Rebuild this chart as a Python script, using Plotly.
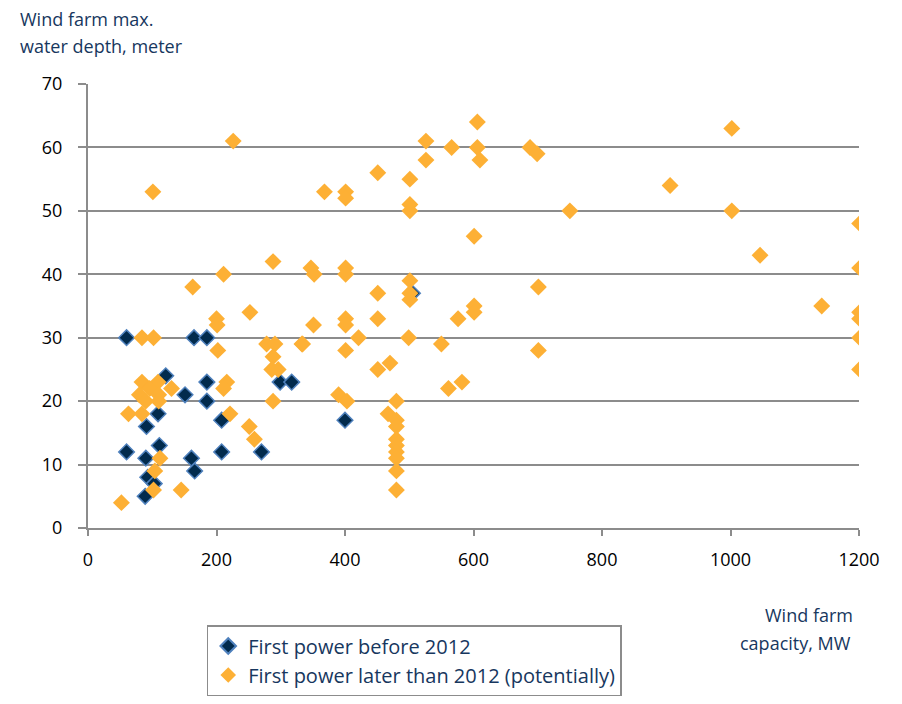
import plotly.graph_objects as go

# First power before 2012: capacity (MW), max water depth (m)
before_cap = [60, 165, 185, 121, 151, 185, 185, 109, 91, 208, 299, 317,
              60, 90, 111, 161, 166, 208, 270, 93, 103, 89, 400, 505]
before_depth = [30, 30, 30, 24, 21, 23, 20, 18, 16, 17, 23, 23,
                12, 11, 13, 11, 9, 12, 12, 8, 7, 5, 17, 37]

# First power later than 2012 (potentially)
later_cap = [84, 102, 101, 226,
             84, 109, 96, 130, 80, 110, 90, 110, 63, 84,
             112, 104, 102, 145, 52,
             288, 211, 163, 347, 352, 200, 201, 252, 351, 278, 291, 333, 202,
             288, 286, 296, 216, 211, 288, 221, 251, 259,
             606, 526, 566, 606, 610, 526, 688, 699, 451, 501, 368, 401, 401,
             501, 501, 601, 401, 401, 501, 501, 501, 451, 701, 401, 401, 451,
             421, 499, 550, 334, 401, 701, 576, 601, 601, 451, 470, 561, 582,
             390, 403, 480, 467, 480, 480, 480, 480, 480, 480, 480, 480,
             1002, 906, 750, 1002, 1201, 1046, 1201, 1142, 1201, 1201, 1201, 1201]
later_depth = [30, 30, 53, 61,
               23, 23, 22, 22, 21, 21, 20, 20, 18, 18,
               11, 9, 6, 6, 4,
               42, 40, 38, 41, 40, 33, 32, 34, 32, 29, 29, 29, 28,
               27, 25, 25, 23, 22, 20, 18, 16, 14,
               64, 61, 60, 60, 58, 58, 60, 59, 56, 55, 53, 53, 52,
               51, 50, 46, 41, 40, 39, 37, 36, 37, 38, 33, 32, 33,
               30, 30, 29, 29, 28, 28, 33, 35, 34, 25, 26, 22, 23,
               21, 20, 20, 18, 17, 16, 14, 13, 12, 11, 9, 6,
               63, 54, 50, 50, 48, 43, 41, 35, 34, 33, 30, 25]

x_ticks = [0, 200, 400, 600, 800, 1000, 1200]
y_ticks = [0, 10, 20, 30, 40, 50, 60, 70]

FONT = "'Open Sans', Lato, sans-serif"
NAVY = "#17375E"
GRID = "#8C8C8C"

fig = go.Figure()
fig.add_trace(go.Scatter(
    x=before_cap, y=before_depth, mode="markers",
    name="First power before 2012",
    marker=dict(symbol="diamond", size=12, color="#022B4D",
                line=dict(color="#4F81BD", width=1.5)),
))
fig.add_trace(go.Scatter(
    x=later_cap, y=later_depth, mode="markers",
    name="First power later than 2012 (potentially)",
    marker=dict(symbol="diamond", size=13, color="#FDB035",
                line=dict(color="#FDB035", width=0)),
))

fig.update_layout(
    width=902, height=704,
    margin=dict(l=80, r=51, t=76, b=184),
    paper_bgcolor="white", plot_bgcolor="white",
    font=dict(family=FONT, size=18, color="black"),
    showlegend=True,
    legend=dict(x=0.154, y=-0.2185, xanchor="left", yanchor="top",
                bordercolor=GRID, borderwidth=1.5, bgcolor="white",
                font=dict(family=FONT, size=20, color=NAVY),
                tracegroupgap=0, itemsizing="constant"),
    xaxis=dict(range=[0, 1200], tickvals=x_ticks, showgrid=False,
               showline=True, linecolor=GRID, linewidth=2,
               ticks="outside", ticklen=6, tickcolor=GRID, tickwidth=1.5,
               ticklabelstandoff=8,
               zeroline=False, tickfont=dict(family=FONT, size=18, color="black")),
    yaxis=dict(range=[0, 70], tickvals=y_ticks, showgrid=True,
               gridcolor=GRID, gridwidth=2,
               showline=True, linecolor=GRID, linewidth=2,
               ticks="outside", ticklen=8, tickcolor=GRID, tickwidth=1.5,
               ticklabelstandoff=12,
               zeroline=False, tickfont=dict(family=FONT, size=18, color="black")),
    annotations=[
        dict(text="Wind farm max.", xref="paper", yref="paper",
             x=-0.0908, y=1.146, xanchor="left", yanchor="middle",
             showarrow=False, font=dict(family=FONT, size=18, color=NAVY)),
        dict(text="water depth, meter", xref="paper", yref="paper",
             x=-0.0908, y=1.085, xanchor="left", yanchor="middle",
             showarrow=False, font=dict(family=FONT, size=18, color=NAVY)),
        dict(text="Wind farm", xref="paper", yref="paper",
             x=0.995, y=-0.196, xanchor="right", yanchor="middle",
             showarrow=False, font=dict(family=FONT, size=18, color=NAVY)),
        dict(text="capacity, MW", xref="paper", yref="paper",
             x=0.992, y=-0.259, xanchor="right", yanchor="middle",
             showarrow=False, font=dict(family=FONT, size=18, color=NAVY)),
    ],
)

fig.write_html("out.html")
